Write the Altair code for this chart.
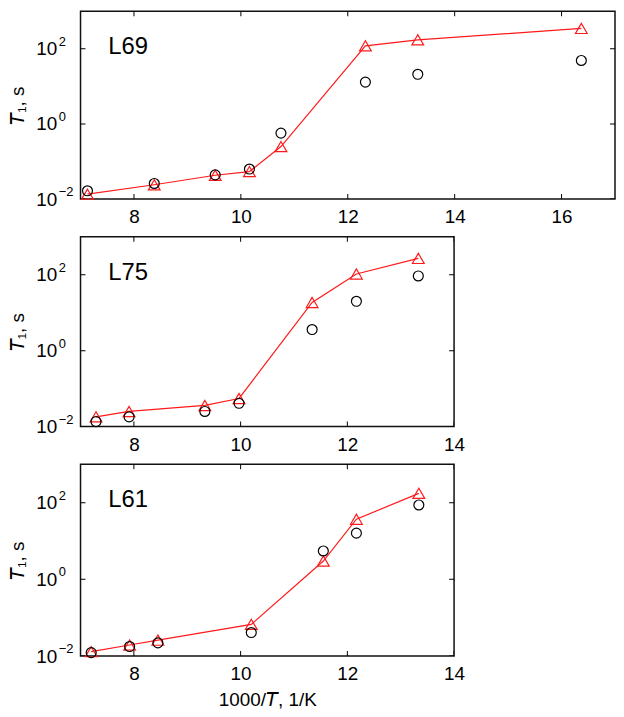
import altair as alt
import pandas as pd

# ---- data ----
names = ["L69", "L75", "L61"]

x_l69 = [7.13, 8.38, 9.52, 10.16, 10.75, 12.33, 13.31, 16.37]
tri_l69 = [0.0135, 0.024, 0.043, 0.054, 0.25, 120, 174, 350]
circ_l69 = [0.0166, 0.026, 0.044, 0.063, 0.57, 13, 21, 49]

x_l75 = [7.29, 7.91, 9.33, 9.97, 11.34, 12.17, 13.33]
tri_l75 = [0.018, 0.025, 0.036, 0.055, 18.6, 105, 270]
circ_l75 = [0.0135, 0.018, 0.025, 0.041, 3.6, 20, 93]

x_l61 = [7.2, 7.92, 8.45, 10.2, 11.55, 12.17, 13.34]
tri_l61 = [0.013, 0.0194, 0.026, 0.067, 3.0, 37, 175]
circ_l61 = [0.0123, 0.0177, 0.022, 0.041, 5.5, 16, 87]

xticks_top = [8, 10, 12, 14, 16]
xticks_small = [8, 10, 12, 14]
yticks = [0.01, 1, 100]
ytick_exponents = ["\u22122", "0", "2"]
x_domains = [[7, 17], [7, 14], [7, 14]]
y_domain = [0.01, 1000]
label_pos = [7.52, 75]

FONT = "Liberation Sans"
RED = "#ff1a1a"


def panel(name, xs, tri, circ, xdom, xticks, width, height, show_xtitle, xlabpad):
    df = pd.DataFrame({"x": xs, "tri": tri, "circ": circ})
    xscale = alt.Scale(domain=xdom, nice=False, zero=False)
    yscale = alt.Scale(type="log", domain=y_domain, nice=False)
    xaxis = alt.Axis(values=xticks, ticks=False, domain=False, grid=False,
                     labelFlush=False, labelOverlap=False, labelPadding=xlabpad,
                     title=("1000/𝘛, 1/K" if show_xtitle else ""),
                     titlePadding=7)
    yaxis = alt.Axis(values=yticks, ticks=False, domain=False, grid=False,
                     labelPadding=24, title="𝘛₁, s", titlePadding=8,
                     labelExpr="'10'")

    def X(field="x"):
        return alt.X(f"{field}:Q", scale=xscale, axis=xaxis)

    def Y(field):
        return alt.Y(f"{field}:Q", scale=yscale, axis=yaxis)

    base = alt.Chart(df)
    line = base.mark_line(color=RED, strokeWidth=1.2).encode(x=X(), y=Y("tri"))
    tris = base.mark_point(shape="triangle-up", color=RED, size=140,
                           strokeWidth=1.2, filled=False, opacity=1).encode(x=X(), y=Y("tri"))
    circs = base.mark_point(shape="circle", color="black", size=100,
                            strokeWidth=1.2, filled=False, opacity=1).encode(x=X(), y=Y("circ"))
    lab = alt.Chart(pd.DataFrame({"x": [label_pos[0]], "y": [label_pos[1]], "t": [name]})).mark_text(
        align="left", baseline="alphabetic", fontSize=24, font=FONT, color="black"
    ).encode(x=X(), y=Y("y"), text="t:N")

    expdf = pd.DataFrame({"x": [xdom[0]] * 3, "y": yticks, "t": ytick_exponents})
    exps = alt.Chart(expdf).mark_text(
        align="left", baseline="alphabetic", fontSize=13, font=FONT, color="black",
        dx=-22, dy=-3
    ).encode(x=X(), y=Y("y"), text="t:N")

    n = len(xticks)
    xt = pd.DataFrame({"x": xticks + xticks, "y": [y_domain[0]] * n + [y_domain[1]] * n})
    yt = pd.DataFrame({"x": [xdom[0]] * 3 + [xdom[1]] * 3, "y": yticks + yticks})
    xtk = alt.Chart(xt).mark_tick(orient="vertical", size=10, thickness=1, color="black",
                                  clip=True, opacity=1).encode(x=X(), y=Y("y"))
    ytk = alt.Chart(yt).mark_tick(orient="horizontal", size=10, thickness=1, color="black",
                                  clip=True, opacity=1).encode(x=X(), y=Y("y"))

    return alt.layer(xtk, ytk, line, tris, circs, lab, exps).properties(width=width, height=height)


p1 = panel(names[0], x_l69, tri_l69, circ_l69, x_domains[0], xticks_top, 538, 189, False, 9)
p2 = panel(names[1], x_l75, tri_l75, circ_l75, x_domains[1], xticks_small, 376, 191, False, 9)
p3 = panel(names[2], x_l61, tri_l61, circ_l61, x_domains[2], xticks_small, 376, 193, True, 9)

chart = alt.vconcat(p1, p2, p3, spacing=8).properties(
    padding={"left": 0, "top": 0, "right": 0, "bottom": 0}
).configure_view(
    stroke="#111", strokeWidth=1.5
).configure_axis(
    labelFont=FONT, titleFont=FONT, labelFontSize=19, titleFontSize=19,
    labelColor="black", titleColor="black", titleFontWeight="normal"
)

chart.save("out.html", embed_options={"renderer": "svg", "actions": False})
